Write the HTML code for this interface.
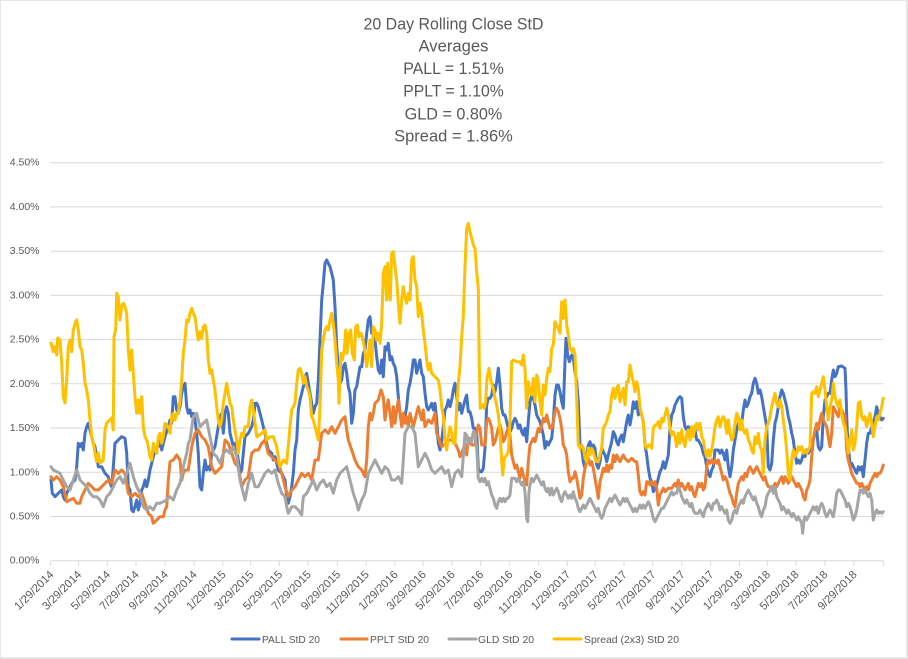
<!DOCTYPE html>
<html><head><meta charset="utf-8"><style>
html,body{margin:0;padding:0;background:#e9e9e9;}
svg{display:block;}
text{font-family:"Liberation Sans",Arial,sans-serif;fill:#595959;}
</style></head><body>
<svg width="908" height="659" viewBox="0 0 908 659" xmlns="http://www.w3.org/2000/svg">
<rect x="0" y="0" width="908" height="659" fill="#e6e6e6"/>
<rect x="1" y="1" width="905" height="656" fill="#ffffff"/>

<!-- Title -->
<g font-size="16.5" text-anchor="middle">
<text x="453.5" y="29.3" textLength="180" lengthAdjust="spacingAndGlyphs">20 Day Rolling Close StD</text>
<text x="453.5" y="51.7" textLength="70" lengthAdjust="spacingAndGlyphs">Averages</text>
<text x="453.5" y="74" textLength="100.6" lengthAdjust="spacingAndGlyphs">PALL = 1.51%</text>
<text x="453.5" y="96.7" textLength="100.6" lengthAdjust="spacingAndGlyphs">PPLT = 1.10%</text>
<text x="453.5" y="119.3" textLength="97.7" lengthAdjust="spacingAndGlyphs">GLD = 0.80%</text>
<text x="453.5" y="141.7" textLength="118.7" lengthAdjust="spacingAndGlyphs">Spread = 1.86%</text>
</g>

<!-- Gridlines -->
<g stroke="#d9d9d9" stroke-width="1">
<line x1="50.7" x2="883.3" y1="516.5" y2="516.5"/>
<line x1="50.7" x2="883.3" y1="472.3" y2="472.3"/>
<line x1="50.7" x2="883.3" y1="428" y2="428"/>
<line x1="50.7" x2="883.3" y1="383.8" y2="383.8"/>
<line x1="50.7" x2="883.3" y1="339.6" y2="339.6"/>
<line x1="50.7" x2="883.3" y1="295.4" y2="295.4"/>
<line x1="50.7" x2="883.3" y1="251.2" y2="251.2"/>
<line x1="50.7" x2="883.3" y1="206.9" y2="206.9"/>
<line x1="50.7" x2="883.3" y1="162.7" y2="162.7"/>
<line x1="50.7" x2="883.3" y1="560.7" y2="560.7"/>
<!-- ticks -->
<path d="M50.7 560.7v5 M78.5 560.7v5 M107.3 560.7v5 M136 560.7v5 M165.2 560.7v5 M194 560.7v5 M222.8 560.7v5 M250.6 560.7v5 M279.4 560.7v5 M308.1 560.7v5 M337.4 560.7v5 M366.1 560.7v5 M394.9 560.7v5 M423.1 560.7v5 M451.9 560.7v5 M480.6 560.7v5 M509.8 560.7v5 M538.6 560.7v5 M567.4 560.7v5 M595.2 560.7v5 M624 560.7v5 M652.7 560.7v5 M681.9 560.7v5 M710.7 560.7v5 M739.4 560.7v5 M767.3 560.7v5 M796 560.7v5 M824.8 560.7v5 M854 560.7v5 M883.3 560.7v5"/>
</g>

<!-- Y labels -->
<g font-size="10.5" text-anchor="end" dominant-baseline="central">
<text x="39.5" y="560.7">0.00%</text>
<text x="39.5" y="516.5">0.50%</text>
<text x="39.5" y="472.3">1.00%</text>
<text x="39.5" y="428">1.50%</text>
<text x="39.5" y="383.8">2.00%</text>
<text x="39.5" y="339.6">2.50%</text>
<text x="39.5" y="295.4">3.00%</text>
<text x="39.5" y="251.2">3.50%</text>
<text x="39.5" y="206.9">4.00%</text>
<text x="39.5" y="162.7">4.50%</text>
</g>

<!-- X labels -->
<g font-size="11.3" text-anchor="end" dominant-baseline="central">
<text transform="translate(52.2,573) rotate(-45)">1/29/2014</text>
<text transform="translate(80,573) rotate(-45)">3/29/2014</text>
<text transform="translate(108.8,573) rotate(-45)">5/29/2014</text>
<text transform="translate(137.5,573) rotate(-45)">7/29/2014</text>
<text transform="translate(166.7,573) rotate(-45)">9/29/2014</text>
<text transform="translate(195.5,573) rotate(-45)">11/29/2014</text>
<text transform="translate(224.3,573) rotate(-45)">1/29/2015</text>
<text transform="translate(252.1,573) rotate(-45)">3/29/2015</text>
<text transform="translate(280.9,573) rotate(-45)">5/29/2015</text>
<text transform="translate(309.6,573) rotate(-45)">7/29/2015</text>
<text transform="translate(338.9,573) rotate(-45)">9/29/2015</text>
<text transform="translate(367.6,573) rotate(-45)">11/29/2015</text>
<text transform="translate(396.4,573) rotate(-45)">1/29/2016</text>
<text transform="translate(424.6,573) rotate(-45)">3/29/2016</text>
<text transform="translate(453.4,573) rotate(-45)">5/29/2016</text>
<text transform="translate(482.1,573) rotate(-45)">7/29/2016</text>
<text transform="translate(511.3,573) rotate(-45)">9/29/2016</text>
<text transform="translate(540.1,573) rotate(-45)">11/29/2016</text>
<text transform="translate(568.9,573) rotate(-45)">1/29/2017</text>
<text transform="translate(596.7,573) rotate(-45)">3/29/2017</text>
<text transform="translate(625.5,573) rotate(-45)">5/29/2017</text>
<text transform="translate(654.2,573) rotate(-45)">7/29/2017</text>
<text transform="translate(683.4,573) rotate(-45)">9/29/2017</text>
<text transform="translate(712.2,573) rotate(-45)">11/29/2017</text>
<text transform="translate(740.9,573) rotate(-45)">1/29/2018</text>
<text transform="translate(768.8,573) rotate(-45)">3/29/2018</text>
<text transform="translate(797.5,573) rotate(-45)">5/29/2018</text>
<text transform="translate(826.3,573) rotate(-45)">7/29/2018</text>
<text transform="translate(855.5,573) rotate(-45)">9/29/2018</text>
</g>

<!-- Series -->
<g fill="none" stroke-width="3" stroke-linejoin="round" stroke-linecap="round">
<polyline stroke="#4472c4" points="51,480 52.3,493.3 55,496.7 58.3,493.3 61.7,490 63.3,496.7 65,500 66.7,493.3 68.3,490 71.7,483.3 75,480 76.7,466.7 78.3,443.3 80,446.7 81.7,443.3 83.3,450 85,433.3 86.7,426.7 88.3,423.3 90,430 91.7,436.7 93.3,443.3 95,446.7 96.7,456.7 98.3,466.7 101.7,466.7 103.3,470 105,473.3 108.3,476.7 110,483.3 111.7,486.7 113.3,466.7 115,443.3 118.3,440 121.7,436.7 125,438.3 126.7,453.3 128.3,486.7 130,490 131.7,510 133.3,511.7 135,506.7 136.7,500 138.3,510 140,503.3 141.7,490 143.3,486.7 145,480 146.7,486.7 148.3,480 150,470 151.7,463.3 155,450 158.3,446.7 160,440 161.7,450 163.3,443.3 165,436.7 168.3,426.7 170,420 171.7,423.3 173.3,396.7 175,396.7 176.7,410 178.3,413.3 180,406.7 181.7,393.3 183.3,386.7 185,383.3 186.7,406.7 188.3,413.3 190,410 191.7,416.7 193.3,413.3 195,420 196.7,433.3 198.3,453.3 200,486.7 201.7,490 203.3,473.3 205,460 206.7,470 208.3,466.7 210,470 211.7,453.3 215,446.7 218.3,426.7 220,416.7 221.7,413.3 223.3,433.3 225,413.3 226.7,406.7 228.3,413.3 230,433.3 231.7,440 233.3,446.7 235,443.3 236.7,450 238.3,460 240,473.3 241.7,470 243.3,453.3 245,436.7 248.3,433.3 251.7,426.7 253.3,420 255,403.3 256.7,403.3 258.3,406.7 260,413.3 261.7,420 263.3,426.7 265,433.3 266.7,443.3 268.3,450 271.7,453.3 273.3,460 275,456.7 276.7,463.3 278.3,470 281.7,473.3 285,480 286.7,496.7 288.3,503.3 290,496.7 291.7,486.7 293.3,473.3 295,450 296.7,440 298.3,410 300,400 301.7,393.3 303.3,386.7 305,376.7 306.7,373.3 308.3,383.3 310,393.3 311.7,403.3 313.3,413.3 315,406.7 316.7,403.3 318.3,380 320,340 321.7,300 323.3,283.3 325,263.3 326.7,260 328.3,263.3 330,266.7 331.7,273.3 333.3,280 335,306.7 336.7,346.7 338.3,366.7 340,383.3 341.7,380 343.3,366.7 345,363.3 346.7,373.3 348.3,386.7 350,393.3 351.7,423.3 353.3,413.3 355,390 356.7,386.7 358.3,376.7 360,366.7 361.7,366.7 363.3,353.3 365,350 366.7,333.3 368.3,320 370,316.7 371.7,333.3 373.3,330 375,340 376.7,356.7 378.3,370 380,373.3 381.7,360 383.3,376.7 385,346.7 386.7,350 388.3,343.3 390,360 391.7,356.7 393.3,363.3 395,366.7 396.7,376.7 398.3,396.7 400,413.3 401.7,416.7 403.3,420 405,416.7 406.7,406.7 408.3,390 410,383.3 411.7,373.3 413.3,360 415,360 416.7,373.3 418.3,366.7 420,360 421.7,373.3 423.3,376.7 425,393.3 426.7,406.7 428.3,410 430,406.7 431.7,403.3 433.3,410 435,403.3 436.7,420 438.3,443.3 440,450 441.7,440 443.3,426.7 445,410 446.7,406.7 448.3,400 450,406.7 451.7,400 453.3,390 455,383.3 456.7,396.7 458.3,410 460,403.3 461.7,413.3 463.3,406.7 465,400 466.7,395 468.3,411.7 470,411.7 471.7,418.3 473.3,428.3 475,428.3 476.7,431.7 478.3,468.3 480,471.7 481.7,471.7 483.3,468.3 485,448.3 486.7,405 488.3,398.3 490,398.3 491.7,395 493.3,385 495,391.7 496.7,381.7 498.3,368.3 500,385 501.7,408.3 503.3,415 505,415 506.7,421.7 508.3,428.3 510,431.7 511.7,428.3 513.3,421.7 515,418.3 516.7,421.7 518.3,428.3 520,425 521.7,431.7 523.3,435 525,428.3 526.7,441.7 528.3,421.7 530,401.7 531.7,395 533.3,398.3 535,405 536.7,415 538.3,418.3 540,421.7 541.7,428.3 543.3,435 545,448.3 546.7,441.7 548.3,445 550,441.7 551.7,438.3 553.3,421.7 555,395 556.7,385 558.3,385 560,391.7 561.7,401.7 563.3,408.3 565,361.7 566,338.3 567.7,355 569.3,361.7 571.7,355 573.3,358.3 575,371.7 576.7,381.7 578.3,401.7 580,445 581.7,448.3 583.3,461.7 585,468.3 586.7,455 588.3,445 590,441.7 591.7,448.3 593.3,445 595,448.3 596.7,465 598.3,468.3 600,461.7 601.7,448.3 603.3,451.7 605,455 606.7,461.7 608.3,455 610,448.3 611.7,441.7 613.3,431.7 615,435 616.7,441.7 618.3,445 620,438.3 621.7,435 623.3,441.7 625,431.7 626.7,421.7 628.3,415 630,425 631.7,415 633.3,401.7 635,408.3 636.7,401.7 638.3,415 640,408.3 641.7,415 643.3,421.7 645,445 646.7,455 648.3,468.3 650,478.3 651.7,481.7 653.3,491.7 655,488.3 656.7,485 658.3,478.3 660,471.7 661.7,468.3 663.3,461.7 665,468.3 666.7,461.7 668.3,455 670,428.3 671.7,415 673.3,411.7 675,405 676.7,401.7 678.3,398.3 680,396.7 681.7,398.3 683.3,416.7 685,426.7 686.7,430 688.3,426.7 690,436.7 691.7,426.7 693.3,430 695,430 696.7,440 698.3,440 700,443.3 701.7,446.7 703.3,453.3 705,456.7 706.7,466.7 708.3,473.3 710,476.7 711.7,470 713.3,466.7 715,450 716.7,450 718.3,450 720,453.3 721.7,450 723.3,453.3 725,460 726.7,450 728.3,466.7 730,476.7 731.7,466.7 733.3,450 735,440 736.7,430 738.3,423.3 740,420 741.7,423.3 743.3,410 745,400 746.7,406.7 748.3,403.3 750,396.7 751.7,393.3 753.3,383.3 755,378.3 756.7,383.3 758.3,393.3 760,390 761.7,396.7 763.3,406.7 765,416.7 766.7,426.7 768.3,466.7 770,470 771.7,463.3 773.3,440 775,423.3 776.7,416.7 778.3,406.7 780,396.7 781.7,390 783.3,393.3 785,400 786.7,406.7 788.3,416.7 790,423.3 791.7,433.3 793.3,440 795,453.3 796.7,463.3 798.3,460 800,463.3 801.7,460 803.3,453.3 805,456.7 806.7,450 808.3,453.3 810,450 811.7,440 813.3,440 815,433.3 816.7,430 818.3,446.7 820,450 821.7,446.7 823.3,416.7 825,400 826.7,396.7 828.3,393.3 830,393.3 831.7,380 833.3,370 835,376.7 836.7,373.3 838.3,366.7 841.7,366 845,368.3 846,390 846.7,416.7 847.7,440 849,453.3 850.3,466.7 851.7,463.3 853.3,466.7 855,470 856.7,473.3 858.3,466.7 860,470 861.7,466.7 863.3,476.7 865,460 866.7,443.3 868.3,433.3 870,433.3 871.7,426.7 873.3,423.3 875,416.7 876.7,406.7 878.3,413.3 880,416.7 881.7,420 883.3,418.3"/>
<polyline stroke="#ed7d31" points="51,476.7 53.3,480 56.7,476.7 60,480 63.3,486.7 66.7,501.7 70,500 73.3,498.3 76.7,503.3 80,503.3 81.7,496.7 85,490 88.3,483.3 91.7,486.7 95,490 98.3,490 101.7,486.7 105,483.3 108.3,480 111.7,483.3 115,470 118.3,473.3 121.7,470 125,473.3 128.3,493.3 131.7,496.7 135,493.3 138.3,496.7 141.7,493.3 145,503.3 148.3,513.3 151.7,516.7 153.3,523.3 156.7,520 160,516.7 163.3,516.7 165,510 166.7,506.7 168.3,480 170,461.7 173.3,460 176.7,455 180,460 181.7,480 183.3,473.3 185,470 188.3,470 191.7,446.7 195,433.3 198.3,430 201.7,436.7 205,440 208.3,446.7 211.7,466.7 215,473.3 218.3,470 221.7,466.7 225,440 228.3,443.3 231.7,453.3 235,463.3 238.3,466.7 241.7,486.7 245,480 248.3,476.7 251.7,453.3 255,450 258.3,450 261.7,443.3 265,440 268.3,453.3 271.7,456.7 275,460 278.3,463.3 281.7,473.3 285,486.7 288.3,496.7 291.7,490 295,486.7 298.3,480 301.7,473.3 305,476.7 308.3,473.3 311.7,480 315,460 318.3,460 321.7,433.3 325,430 328.3,433.3 331.7,426.7 335,433.3 338.3,426.7 341.7,420 345,416.7 346.7,430 348.3,440 351.7,450 355,460 358.3,466.7 361.7,470 365,476.7 366.7,460 368.3,426.7 370,413.3 371.7,420 373.3,413.3 375,403.3 378.3,400 381,390 383.3,396.7 385,420 386.7,406.7 388.3,400 390,413.3 391.7,426.7 393.3,406.7 395,423.3 396.7,410 398.3,400 400,413.3 401.7,426.7 403.3,413.3 405,423.3 406.7,416.7 408.3,426.7 410,413.3 411.7,420 413.3,426.7 415,420 418.3,406.7 421.7,420 423.3,410 425,426.7 428.3,420 431.7,423.3 435,413.3 436.7,433.3 438.3,436.7 440,443.3 441.7,446.7 445,443.3 448.3,440 451.7,440 455,443.3 458.3,450 460,456.7 461.7,453.3 465,444 466.7,455 468.3,438.3 470,438.3 471.7,445 475,445 476.7,431.7 478.3,425 480,428.3 481.7,445 485,445 486.7,421.7 488.3,418.3 490,421.7 491.7,428.3 493.3,445 495,441.7 496.7,435 498.3,428.3 500,425 501.7,431.7 503.3,441.7 505,438.3 506.7,431.7 508.3,428.3 510,435 511.7,455 513.3,461.7 515,468.3 516.7,465 518.3,471.7 520,478.3 521.7,468.3 523.3,475 525,481.7 526.7,485 528.3,461.7 530,445 531.7,441.7 533.3,438.3 535,441.7 536.7,435 538.3,428.3 540,431.7 541.7,425 543.3,418.3 545,421.7 546.7,415 548.3,421.7 550,428.3 551.7,428.3 553.3,421.7 555,411.7 556.7,408.3 558.3,411.7 560,418.3 561.7,428.3 563.3,445 565,448.3 566.7,455 568.3,471.7 570,481.7 571.7,478.3 573.3,478.3 575,471.7 576.7,478.3 578.3,488.3 580,498.3 581.7,495 583.3,478.3 585,468.3 586.7,461.7 588.3,458.3 590,465 591.7,461.7 593.3,468.3 595,478.3 596.7,488.3 598.3,498.3 600,481.7 601.7,475 603.3,468.3 605,471.7 606.7,465 608.3,471.7 610,465 611.7,468.3 613.3,455 615,461.7 616.7,455 618.3,458.3 620,461.7 621.7,458.3 623.3,455 625,458.3 628.3,461.7 631.7,458.3 635,461.7 636.7,461.7 638.3,475 640,491.7 641.7,495 643.3,491.7 645,495 646.7,481.7 648.3,481.7 650,485 651.7,481.7 653.3,485 655,481.7 656.7,488.3 658.3,505 660,495 661.7,491.7 663.3,488.3 665,491.7 668.3,488.3 671.7,488.3 675,483.3 676.7,486.7 678.3,480 680,486.7 681.7,483.3 683.3,486.7 685,490 686.7,486.7 688.3,483.3 690,490 691.7,486.7 693.3,493.3 695,496.7 696.7,490 698.3,483.3 700,486.7 701.7,483.3 703.3,490 705,486.7 706.7,466.7 708.3,460 710,463.3 711.7,460 713.3,463.3 715,460 716.7,463.3 718.3,460 720,466.7 721.7,473.3 723.3,480 725,476.7 726.7,480 728.3,486.7 730,493.3 731.7,496.7 733.3,503.3 735,506.7 736.7,493.3 738.3,483.3 740,480 741.7,476.7 743.3,480 745,473.3 746.7,476.7 748.3,470 750,466.7 751.7,470 753.3,473.3 755,470 756.7,466.7 758.3,470 760,473.3 761.7,476.7 763.3,480 765,476.7 766.7,483.3 768.3,486.7 770,486.7 771.7,490 773.3,486.7 775,483.3 776.7,486.7 778.3,483.3 780,480 781.7,476.7 783.3,483.3 785,476.7 786.7,480 788.3,483.3 790,480 791.7,476.7 793.3,480 795,483.3 796.7,486.7 798.3,483.3 800,486.7 801.7,490 803.3,496.7 805,500 806.7,490 808.3,486.7 810,480 811.7,456.7 813.3,440 815,430 816.7,423.3 818.3,430 820,420 821.7,413.3 823.3,420 825,423.3 826.7,426.7 828.3,436.7 830,446.7 831.7,433.3 833.3,406.7 835,410 836.7,413.3 838.3,416.7 840,406.7 841.7,410 843.3,413.3 845,416.7 846.7,450 848.3,460 850,466.7 851.7,473.3 853.3,476.7 855,480 856.7,483.3 858.3,483.3 860,486.7 861.7,483.3 863.3,486.7 865,490 866.7,486.7 868.3,490 870,483.3 871.7,480 873.3,476.7 875,473.3 876.7,476.7 878.3,473.3 880,473.3 881.7,470 883.3,465"/>
<polyline stroke="#a5a5a5" points="51,466.7 53.3,470 56.7,471.7 60,473.3 63.3,480 66.7,486.7 70,490 73.3,480 76.7,470 80,480 83.3,483.3 86.7,486.7 90,493.3 93.3,496.7 96.7,496.7 100,500 103.3,506.7 106.7,496.7 110,493.3 113.3,486.7 116.7,480 120,476.7 123.3,483.3 126.7,473.3 130,463.3 133.3,476.7 136.7,486.7 140,493.3 143.3,506.7 146.7,510 150,506.7 153.3,510 156.7,503.3 160,503.3 163.3,501.7 166.7,500 170,496.7 173.3,500 176.7,490 180,483.3 183.3,466.7 186.7,453.3 188.3,443.3 190,440 193.3,416.7 196.7,413.3 200,426.7 203.3,423.3 206.7,420 210,436.7 213.3,453.3 216.7,456.7 220,463.3 223.3,453.3 226.7,450 230,453.3 233.3,446.7 236.7,456.7 240,480 243.3,493.3 245,500 248.3,483.3 251.7,473.3 255,486.7 258.3,486.7 261.7,480 265,473.3 268.3,470 271.7,473.3 275,470 278.3,483.3 281.7,493.3 285,496.7 286.7,506.7 288.3,513.3 291.7,506.7 295,506.7 298.3,510 301.7,515 303.3,496.7 306.7,493.3 310,486.7 313.3,480 316.7,490 320,483.3 323.3,480 326.7,486.7 330,483.3 333.3,493.3 336.7,480 340,473.3 343.3,470 346.7,466.7 350,480 353.3,493.3 356.7,503.3 358.3,510 361.7,500 365,493.3 368.3,473.3 371.7,466.7 375,460 378.3,466.7 381.7,473.3 385,466.7 388.3,470 391.7,480 395,480 398.3,476.7 401.7,483.3 403.3,460 405,433.3 408.3,426.7 411.7,426.7 415,433.3 418.3,466.7 421.7,460 425,453.3 428.3,460 431.7,470 435,473.3 438.3,470 441.7,466.7 445,473.3 448.3,470 451.7,486.7 455,473.3 458.3,470 461.7,476.7 463.3,456.7 465,433.3 466.7,435 468.3,445 470,438.3 471.7,441.7 473.3,431.7 475,435 476.7,448.3 478.3,478.3 480,481.7 481.7,478.3 483.3,481.7 485,478.3 486.7,485 488.3,481.7 490,488.3 491.7,495 493.3,498.3 495,505 496.7,508.3 498.3,501.7 500,498.3 501.7,501.7 503.3,498.3 505,501.7 506.7,498.3 508.3,498.3 510,495 511.7,478.3 513.3,478.3 515,478.3 516.7,481.7 518.3,478.3 520,481.7 521.7,485 523.3,481.7 525,491.7 526.7,518.3 527.7,521.7 529,491.7 530,485 531.7,478.3 533.3,481.7 535,478.3 536.7,475 538.3,478.3 540,481.7 541.7,485 543.3,481.7 545,488.3 546.7,491.7 548.3,488.3 550,495 551.7,488.3 553.3,495 555,491.7 556.7,488.3 558.3,491.7 560,498.3 561.7,501.7 563.3,495 565,491.7 566.7,495 568.3,498.3 570,495 571.7,498.3 573.3,491.7 575,498.3 576.7,501.7 578.3,508.3 580,511.7 581.7,508.3 583.3,505 585,508.3 586.7,505 588.3,501.7 590,498.3 591.7,501.7 593.3,505 595,508.3 596.7,511.7 598.3,508.3 600,515 601.7,518.3 603.3,515 605,508.3 606.7,505 608.3,501.7 610,498.3 611.7,501.7 613.3,498.3 615,495 616.7,498.3 618.3,501.7 620,505 621.7,501.7 623.3,498.3 625,501.7 626.7,498.3 628.3,501.7 630,505 631.7,508.3 633.3,511.7 635,508.3 636.7,511.7 638.3,508.3 640,505 641.7,508.3 643.3,505 645,508.3 646.7,505 648.3,501.7 650,505 651.7,511.7 653.3,518.3 655,521.7 656.7,518.3 658.3,515 660,511.7 661.7,508.3 663.3,508.3 665,505 666.7,501.7 668.3,498.3 670,495 671.7,491.7 673.3,495 675,493 676.7,493.3 678.3,486.7 680,490 681.7,496.7 683.3,500 685,503.3 686.7,500 688.3,503.3 690,506.7 691.7,503.3 693.3,510 695,513.3 698.3,513.3 700,510 701.7,513.3 703.3,516.7 705,510 706.7,506.7 708.3,503.3 710,506.7 711.7,510 713.3,503.3 715,503.3 716.7,500 718.3,503.3 720,510 721.7,506.7 723.3,510 725,513.3 726.7,510 728.3,520 730,523.3 731.7,520 733.3,513.3 735,510 736.7,513.3 738.3,506.7 740,503.3 741.7,500 743.3,503.3 745,496.7 746.7,493.3 748.3,490 750,493.3 751.7,496.7 753.3,500 755,496.7 756.7,503.3 758.3,506.7 760,513.3 761.7,516.7 763.3,510 765,506.7 766.7,496.7 768.3,493.3 770,490 771.7,486.7 773.3,493.3 775,486.7 776.7,496.7 778.3,500 780,503.3 781.7,510 783.3,506.7 785,510 786.7,513.3 788.3,510 790,513.3 791.7,516.7 793.3,513.3 795,516.7 796.7,520 798.3,516.7 800,520 801.7,523.3 802.7,533.3 804,520 805,516.7 806.7,520 808.3,516.7 810,513.3 811.7,510 813.3,506.7 815,510 816.7,506.7 818.3,513.3 820,506.7 821.7,503.3 823.3,506.7 825,513.3 826.7,516.7 828.3,513.3 830,510 831.7,513.3 833.3,516.7 835,506.7 836.7,493.3 838.3,490 840,490 841.7,493.3 843.3,496.7 845,500 846.7,506.7 848.3,503.3 850,506.7 851.7,513.3 853.3,520 855,516.7 856.7,510 858.3,500 860,490 861.7,490 863.3,493.3 865,490 866.7,493.3 868.3,496.7 870,493.3 871.7,500 873.3,520 875,513.3 876.7,510 878.3,513.3 880,511.7 881.7,513.3 883.3,511.7"/>
<polyline stroke="#ffc000" points="51,343 53.3,351.7 55,346.7 56.7,355 57.7,338 60,340 61.7,363 63.3,396.7 65,403 66.7,380 68.3,346.7 70,340 71.7,351.7 73.3,330 75.7,321.7 76.7,320 78.3,330 80,346.7 81.7,350 83.3,363 85,383 86.7,390 88.3,400 90,420 91.7,436.7 93.3,443 95,453 96.7,461.7 98.3,453 100,463 101.7,461.7 103.3,460 105,430 106.7,423 110,420 111.7,418 113.3,430 114,336.7 115.7,330 116.7,293.3 118.3,296.7 120,320 121.7,306.7 123.3,303.3 125,306.7 126.7,313.3 128.3,350 130,370 131.7,350 133.3,373.3 135,396.7 136.7,413.3 138.3,400 140,413.3 141.7,396.7 143.3,426.7 145,436.7 146.7,440 148.3,446.7 150,456.7 151.7,460 153.3,443.3 155,450 156.7,453.3 158.3,436.7 160,433.3 161.7,443.3 163.3,436.7 165,423.3 168.3,426.7 170,433.3 171.7,416.7 173.3,413.3 175,420 176.7,413.3 178.3,413.3 180,400 181.7,380 183.3,353.3 185,340 186.7,320 188.3,321.7 190,313.3 191.7,308.3 193.3,313.3 195,316.7 196.7,330 198.3,340 200,331.7 201.7,338.3 203.3,326.7 205,325 206.7,333.3 208.3,360 210,373.3 211.7,370 213.3,380 215,390 216.7,406.7 218.3,420 220,426.7 221.7,420 223.3,403.3 225,393.3 226.7,383.3 228.3,393.3 230,403.3 231.7,406.7 233.3,420 235,430 236.7,440 238.3,453.3 240,440 241.7,433.3 243.3,436.7 245,426.7 248.3,426.7 250,406.7 251.7,400 253.3,410 255,423.3 256.7,436.7 258.3,436 261.7,433.3 265,430 266.7,440 270,436.7 273.3,436.7 276.7,446.7 280,466.7 283.3,460 286.7,463.3 290,426.7 291.7,410 295,403.3 296.7,383.3 298.3,370 300,368.3 301.7,373.3 303.3,383.3 305,376.7 306.7,386.7 308.3,390 310,396.7 311.7,416.7 313.3,420 315,426.7 316.7,433.3 318.3,440 320,406.7 321.7,350 323.3,340 325,330 326.7,326.7 328.3,330 330,320 331.7,313.3 333.3,323.3 335,340 336.7,363.3 338.3,380 339,403.3 341,353.3 342.3,360 344.3,350 345.7,330 347,353.3 349,333.3 350.7,330 352.3,353.3 354.3,360 355.7,326.7 357.3,325 359,336.7 361,333.3 362.3,336.7 364.3,346.7 366.7,366.7 368.3,353.3 370,340 371.7,366.7 373.3,326.7 375,330 376.7,340 378.3,333.3 380,343.3 381.7,323.3 383.3,273.3 385,266.7 386.7,300 387.7,263.3 389,286.7 390.3,300 391.7,253.3 393.3,251.7 395,266.7 396.7,280 398.3,303.3 400,323.3 401.7,300 403.3,286.7 405,296.7 406.7,303.3 408.3,293.3 410,300 411.7,260 413.3,256.7 415,280 416.7,286.7 418.3,316.7 420,303.3 421.7,313.3 423.3,330 425,343.3 426.7,360 428.3,370 430,363.3 431.7,373.3 435,376.7 438.3,380 440,390 441.7,406.7 443.3,416.7 445,440 446.7,450 448.3,436.7 450,426.7 451.7,433.3 453.3,443.3 455,443.3 456.7,406.7 458.3,383.3 460,366.7 461.7,336.7 463.3,316.7 465,266.7 466.7,228.3 468.3,223.3 470,231.7 471.7,238.3 473.3,245 475,248.3 476.7,271.7 478.3,288.3 479.3,365 480.3,408.3 482.3,405 484.3,408.3 485.7,401.7 487,378.3 489,368.3 491,381.7 493.3,388.3 495,398.3 496.7,405 498.3,415 500,431.7 501.7,461.7 502.7,475 504.3,458.3 506.7,455 508.3,451.7 510,421.7 511.7,361.7 513.3,360 516.7,361.7 520,361.7 521.7,365 523.3,355 525,368.3 526.7,408.3 528.3,381.7 530,391.7 531.7,395 533.3,378.3 535,401.7 536.7,375 538.3,381.7 540,401.7 541.7,415 543.3,385 545,395 546.7,378.3 548.3,368.3 550,371.7 551.7,348.3 553.3,345 555,321.7 556.7,325 558.3,328.3 560,333.3 561.7,301.7 563.3,318.3 565,300 566.7,325 568.3,335 570,348.3 571.7,351.7 573.3,348.3 575,355 576.7,398.3 578.3,445 580,448.3 581.7,445 583.3,448.3 585,458.3 586.7,461.7 588.3,448.3 590,455 591.7,448.3 593.3,451.7 595,458.3 596.7,461.7 598.3,461.7 600,455 601.7,448.3 603.3,428.3 605,425 606.7,421.7 608.3,415 610,411.7 611.7,395 613.3,388.3 615,398.3 616.7,388.3 618.3,385 620,401.7 621.7,395 623.3,388.3 625,405 626.7,381.7 628.3,381.7 630,365 631.7,375 633.3,381.7 635,391.7 636.7,381.7 638.3,388.3 640,408.3 641.7,415 643.3,421.7 645,445 646.7,448.3 648.3,445 650,445 651.7,448.3 653.3,428.3 655,425 656.7,425 658.3,421.7 660,428.3 661.7,418.3 663.3,421.7 665,415 666.7,408.3 668.3,415 670,428.3 671.7,435 673.3,431.7 675,436.7 676.7,446.7 678.3,433.3 680,443.3 681.7,430 683.3,440 685,446.7 686.7,433.3 688.3,430 690,440 691.7,426.7 693.3,436.7 695,426.7 696.7,423.3 698.3,430 700,423.3 701.7,436.7 703.3,440 705,450 706.7,456.7 708.3,450 710,456.7 711.7,450 713.3,440 715,426.7 716.7,420 718.3,416.7 720,426.7 721.7,420 723.3,416.7 725,420 726.7,433.3 728.3,420 730,433.3 731.7,440 733.3,436.7 735,423.3 736.7,413.3 738.3,416.7 740,430 741.7,420 743.3,430 745,433.3 746.7,430 748.3,440 750,443.3 751.7,450 753.3,453.3 755,436.7 756.7,443.3 758.3,433.3 760,446.7 761.7,450 763.3,473.3 765,440 766.7,426.7 768.3,423.3 770,416.7 771.7,406.7 773.3,400 775,393.3 776.7,403.3 778.3,406.7 780,400 781.7,406.7 783.3,420 785,433.3 786.7,450 788.3,473.3 790,480 791.7,460 793.3,450 795,456.7 796.7,453.3 798.3,446.7 800,450 801.7,446.7 803.3,453.3 805,450 806.7,453.3 808.3,450 810,446.7 811.7,393.3 813.3,391.7 815,393.3 816.7,386.7 818.3,396.7 820,390 821.7,383.3 823.3,376.7 825,390 826.7,406.7 828.3,420 830,406.7 831.7,400 833.3,383.3 835,396.7 836.7,403.3 838.3,406.7 840,400 841.7,413.3 843.3,423.3 845,426.7 846.7,436.7 848.3,453.3 850,440 851.7,430 853.3,450 855,443.3 856.7,426.7 858.3,403.3 860,401.7 861.7,416.7 863.3,420 865,416.7 866.7,426.7 868.3,420 870,413.3 871.7,423.3 873.3,436.7 875,426.7 876.7,416.7 878.3,420 880,413.3 881.7,406.7 883.3,398.3"/>
</g>

<!-- Legend -->
<g stroke-width="3" stroke-linecap="round">
<line x1="232" y1="639" x2="259" y2="639" stroke="#4472c4"/>
<line x1="341" y1="639" x2="367" y2="639" stroke="#ed7d31"/>
<line x1="449" y1="639" x2="476" y2="639" stroke="#a5a5a5"/>
<line x1="554" y1="639" x2="581" y2="639" stroke="#ffc000"/>
</g>
<g font-size="10.5">
<text x="262" y="642.8" textLength="58" lengthAdjust="spacingAndGlyphs">PALL StD  20</text>
<text x="370" y="642.8" textLength="59" lengthAdjust="spacingAndGlyphs">PPLT StD  20</text>
<text x="478" y="642.8" textLength="56" lengthAdjust="spacingAndGlyphs">GLD StD  20</text>
<text x="584" y="642.8" textLength="95" lengthAdjust="spacingAndGlyphs">Spread (2x3) StD 20</text>
</g>
</svg>
</body></html>
